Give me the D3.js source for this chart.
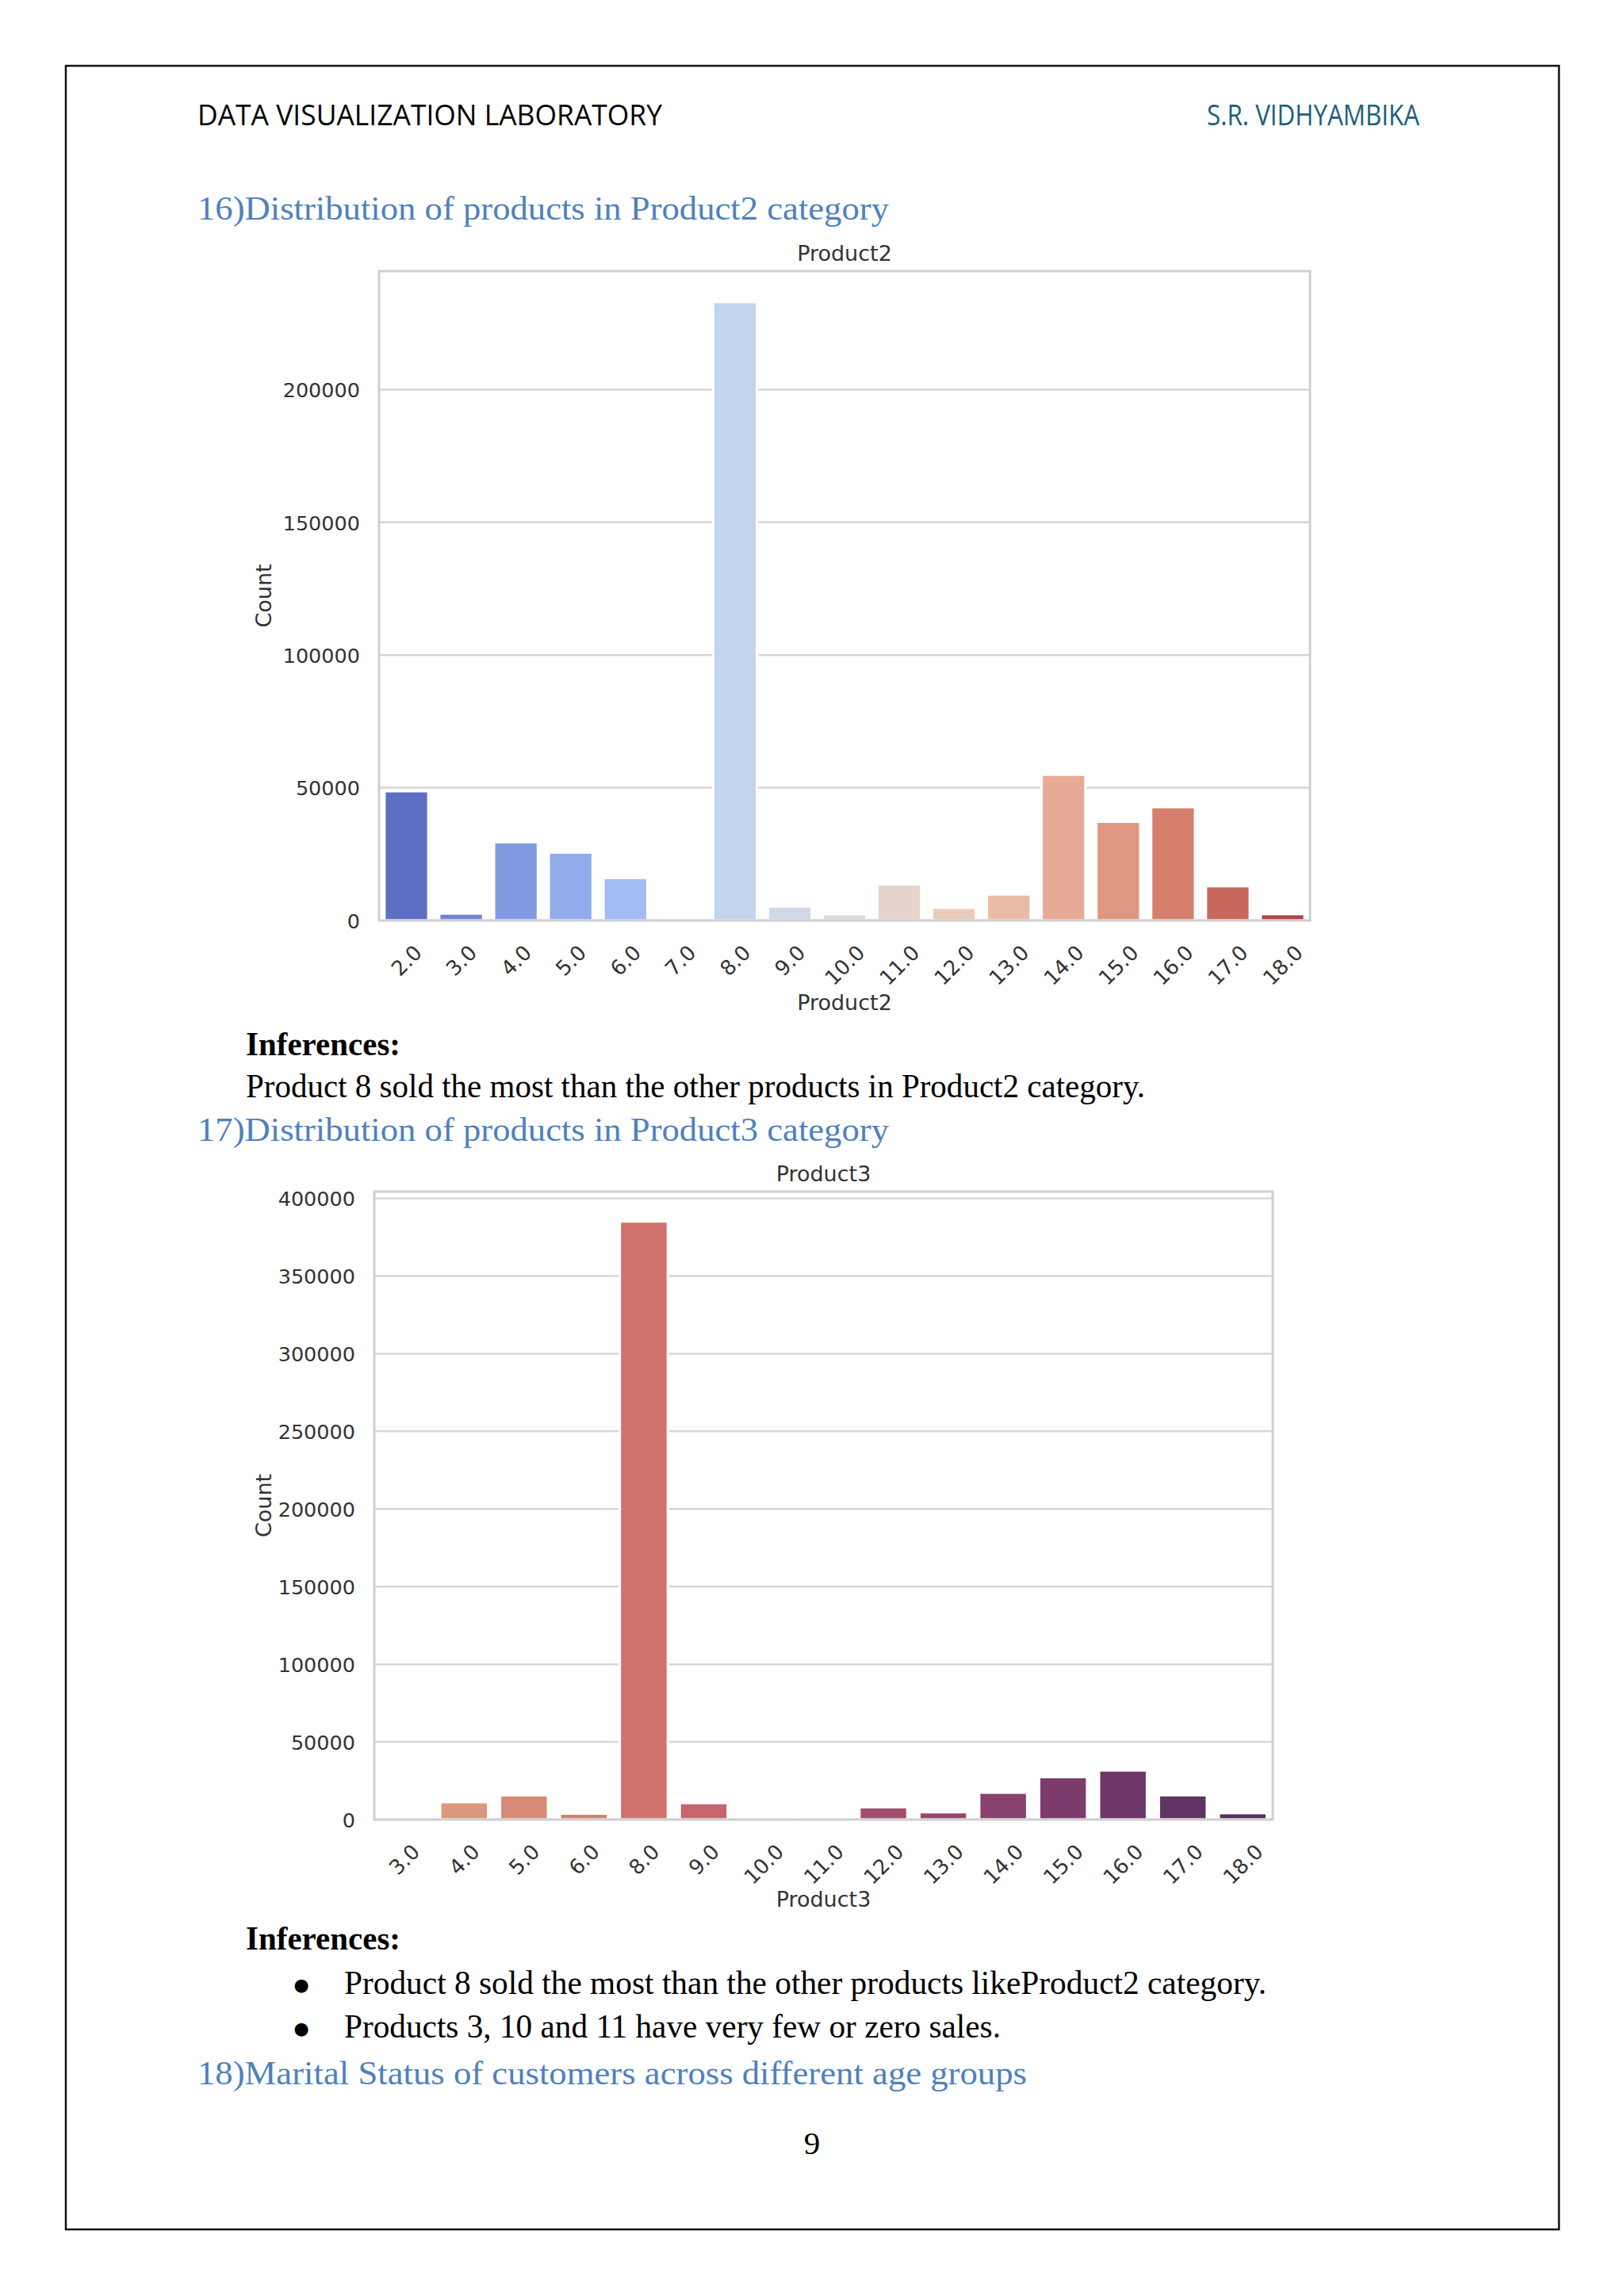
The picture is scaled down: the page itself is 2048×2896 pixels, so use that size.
<!DOCTYPE html>
<html><head><meta charset="utf-8">
<script src="https://cdn.jsdelivr.net/npm/d3@7"></script>
<style>body{margin:0;background:#fff} svg{display:block}</style>
</head><body>
<svg id="page" width="2048" height="2896"></svg>
<script>
// ---------- data ----------
const product2Categories = ["2.0","3.0","4.0","5.0","6.0","7.0","8.0","9.0","10.0","11.0","12.0","13.0","14.0","15.0","16.0","17.0","18.0"];
const product2Counts = [48700, 2600, 29500, 25600, 16000, 600, 233000, 5300, 2400, 13600, 4800, 9800, 54900, 37200, 42700, 12900, 2400];
const product2YTicks = [0, 50000, 100000, 150000, 200000];

const product3Categories = ["3.0","4.0","5.0","6.0","8.0","9.0","10.0","11.0","12.0","13.0","14.0","15.0","16.0","17.0","18.0"];
const product3Counts = [300, 11200, 15600, 3800, 385100, 10600, 300, 400, 7900, 4700, 17300, 27300, 31600, 15600, 4100];
const product3YTicks = [0, 50000, 100000, 150000, 200000, 250000, 300000, 350000, 400000];

// palettes (matplotlib coolwarm / seaborn flare anchor colours)
const coolwarmAnchors = ["#3b4cc0","#5977e3","#7b9ff9","#9ebeff","#c0d4f5","#dddcdc","#f2cbb7","#f7ac8e","#ee8468","#d65244","#b40426"];
const flareAnchors = ["#edb080","#e98d6b","#e3685c","#d14a61","#b13c6c","#8f3371","#6c2b6d","#4b2362"];
const flareStops = [0,1/7,2/7,3/7,4/7,5/7,6/7,1];

function makePalette(anchors, stops, n) {
  const s = d3.scaleLinear().domain(stops).range(anchors).interpolate(d3.interpolateRgb);
  return d3.range(n).map(i => {
    const c = d3.hsl(s((i + 1) / (n + 1)));
    c.s *= 0.75; // seaborn default saturation
    return c.formatHex();
  });
}

const svg = d3.select("#page");
svg.append("rect").attr("width", 2048).attr("height", 2896).attr("fill", "#fff");

// page border
svg.append("rect").attr("x", 83).attr("y", 83).attr("width", 1883).attr("height", 2729)
  .attr("fill", "none").attr("stroke", "#111").attr("stroke-width", 2.5);

function txt(str, x, y, opts) {
  const t = svg.append("text").attr("x", x).attr("y", y).text(str)
    .attr("font-family", opts.family || "'Liberation Serif', serif")
    .attr("font-size", opts.size || 43)
    .attr("fill", opts.fill || "#000");
  if (opts.weight) t.attr("font-weight", opts.weight);
  if (opts.anchor) t.attr("text-anchor", opts.anchor);
  if (opts.len) t.attr("textLength", opts.len).attr("lengthAdjust", "spacingAndGlyphs");
  return t;
}

const headBlue = "#4f81bd";
txt("DATA VISUALIZATION LABORATORY", 249, 158, {family: "'Open Sans', sans-serif", size: 37, len: 586});
txt("S.R. VIDHYAMBIKA", 1522, 158, {family: "'Open Sans', sans-serif", size: 37, len: 268, fill: "#1d5e7c"});
txt("16)Distribution of products in Product2 category", 249, 277, {size: 43, len: 872, fill: headBlue});
txt("Inferences:", 310, 1331, {size: 42, weight: "bold", len: 195});
txt("Product 8 sold the most than the other products in Product2 category.", 310, 1384, {size: 42, len: 1134});
txt("17)Distribution of products in Product3 category", 249, 1439, {size: 43, len: 872, fill: headBlue});
txt("Inferences:", 310, 2459, {size: 42, weight: "bold", len: 195});
txt("●", 380, 2511, {family: "'DejaVu Sans', sans-serif", size: 22, anchor: "middle"});
txt("Product 8 sold the most than the other products likeProduct2 category.", 434, 2515, {size: 42, len: 1163});
txt("●", 380, 2566, {family: "'DejaVu Sans', sans-serif", size: 22, anchor: "middle"});
txt("Products 3, 10 and 11 have very few or zero sales.", 434, 2570, {size: 42, len: 828});
txt("18)Marital Status of customers across different age groups", 249, 2629, {size: 43, len: 1046, fill: headBlue});
txt("9", 1024, 2717, {size: 41, anchor: "middle"});

// ---------- chart ----------
function drawChart(cfg) {
  const {cats, vals, ticks, left, right, top, bottom, title, xlabel, colors} = cfg;
  const g = svg.append("g");
  const x = d3.scaleBand().domain(cats).range([left, right]).paddingInner(0.2).paddingOuter(0.1);
  const y = d3.scaleLinear().domain([0, d3.max(vals) * 1.05]).range([bottom, top]);
  const font = "'DejaVu Sans', sans-serif";
  const ink = "#333";
  const gridCol = "#d6d6d6";

  // grid
  g.append("g").selectAll("line").data(ticks).join("line")
    .attr("x1", left).attr("x2", right)
    .attr("y1", d => y(d)).attr("y2", d => y(d))
    .attr("stroke", gridCol).attr("stroke-width", 2.5);

  // bars
  g.append("g").selectAll("rect").data(cats).join("rect")
    .attr("x", d => x(d)).attr("width", x.bandwidth())
    .attr("y", (d, i) => y(vals[i])).attr("height", (d, i) => bottom - y(vals[i]))
    .attr("fill", (d, i) => colors[i])
    .attr("stroke", "#fff").attr("stroke-width", 3);

  // spines
  g.append("rect").attr("x", left).attr("y", top).attr("width", right - left).attr("height", bottom - top)
    .attr("fill", "none").attr("stroke", "#d0d0d0").attr("stroke-width", 3);

  // y axis
  const ya = g.append("g").attr("transform", `translate(${left},0)`)
    .call(d3.axisLeft(y).tickValues(ticks).tickSize(0).tickPadding(24).tickFormat(d3.format("d")));
  ya.select(".domain").remove();
  ya.selectAll("text").attr("font-family", font).attr("font-size", 25.5).attr("fill", ink).attr("dy", "0.36em");

  // x axis
  const xa = g.append("g").attr("transform", `translate(0,${bottom})`)
    .call(d3.axisBottom(x).tickSize(0));
  xa.select(".domain").remove();
  const topGap = 29, h = 26 * 0.73;
  xa.selectAll("text")
    .attr("font-family", font).attr("font-size", 26).attr("fill", ink)
    .attr("text-anchor", "middle").attr("y", 0).attr("dy", "0.36em")
    .each(function () {
      const w = this.getComputedTextLength();
      const off = topGap + (w + h) / (2 * Math.SQRT2);
      d3.select(this).attr("transform", `translate(0,${off}) rotate(-45)`);
    });

  // labels
  const cx = (left + right) / 2;
  g.append("text").attr("x", cx).attr("y", top - 13).attr("text-anchor", "middle")
    .attr("font-family", font).attr("font-size", 27).attr("fill", ink).text(title);
  g.append("text").attr("x", cx).attr("y", cfg.xlabelY).attr("text-anchor", "middle")
    .attr("font-family", font).attr("font-size", 27).attr("fill", ink).text(xlabel);
  g.append("text").attr("transform", `translate(342,${(top + bottom) / 2}) rotate(-90)`)
    .attr("text-anchor", "middle")
    .attr("font-family", font).attr("font-size", 27).attr("fill", ink).text("Count");
}

drawChart({
  cats: product2Categories, vals: product2Counts, ticks: product2YTicks,
  left: 478, right: 1652, top: 342, bottom: 1161,
  title: "Product2", xlabel: "Product2", xlabelY: 1274,
  colors: makePalette(coolwarmAnchors, d3.range(11).map(i => i / 10), product2Categories.length)
});

drawChart({
  cats: product3Categories, vals: product3Counts, ticks: product3YTicks,
  left: 472, right: 1605, top: 1503, bottom: 2295,
  title: "Product3", xlabel: "Product3", xlabelY: 2405,
  colors: makePalette(flareAnchors, flareStops, product3Categories.length)
});
</script>
</body></html>
